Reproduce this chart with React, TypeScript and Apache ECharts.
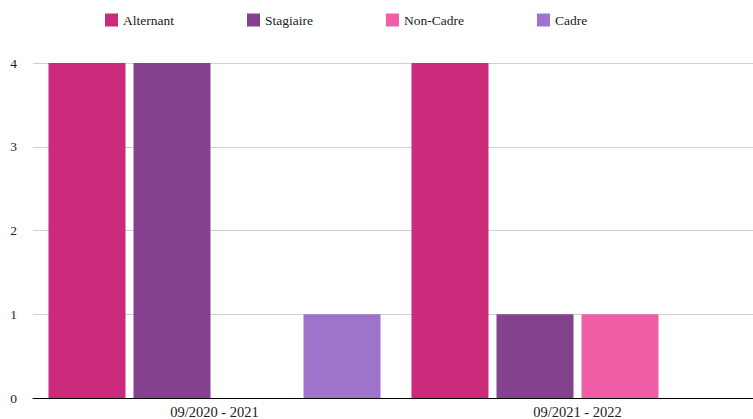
import React, { useEffect, useRef } from "react";
import * as echarts from "echarts";

const categories = ["09/2020 - 2021", "09/2021 - 2022"];
const seriesNames = ["Alternant", "Stagiaire", "Non-Cadre", "Cadre"];
const alternant = [4, 4];
const stagiaire = [4, 1];
const nonCadre = [0, 1];
const cadre = [1, 0];
const colors = ["#CC2A7B", "#84418E", "#F05FA5", "#9E73CC"];

const FONT = "'Liberation Serif', 'DejaVu Serif', serif";

export default function App() {
  const ref = useRef<HTMLDivElement>(null);
  useEffect(() => {
    if (!ref.current) return;
    const chart = echarts.init(ref.current, null, { renderer: "svg" });
    const data = [alternant, stagiaire, nonCadre, cadre];
    chart.setOption({
      animation: false,
      color: colors,
      textStyle: { fontFamily: FONT },
      legend: {
        top: 8,
        left: 100,
        itemWidth: 13,
        itemHeight: 13,
        itemGap: 73,
        icon: "rect",
        textStyle: { fontFamily: FONT, fontSize: 13.5, color: "#222" },
        data: seriesNames,
      },
      grid: { left: 33, top: 63, bottom: 21, width: 726, outerBoundsMode: "none", containLabel: false },
      xAxis: {
        type: "category",
        data: categories,
        axisLine: { lineStyle: { color: "#000", width: 1 } },
        axisTick: { show: false },
        axisLabel: { fontFamily: FONT, fontSize: 14.5, color: "#222", margin: 6 },
      },
      yAxis: {
        type: "value",
        min: 0,
        max: 4,
        interval: 1,
        axisLine: { show: false },
        axisTick: { show: false },
        axisLabel: { fontFamily: FONT, fontSize: 13.5, color: "#222", margin: 16 },
        splitLine: { lineStyle: { color: "#d0d0d0" } },
      },
      series: seriesNames.map((name, i) => ({
        name,
        type: "bar",
        data: data[i],
        barWidth: 77,
        barGap: "10.4%",
      })),
    });
    return () => chart.dispose();
  }, []);
  return <div ref={ref} style={{ width: 753, height: 419, position: "absolute", left: 0, top: 0 }} />;
}
